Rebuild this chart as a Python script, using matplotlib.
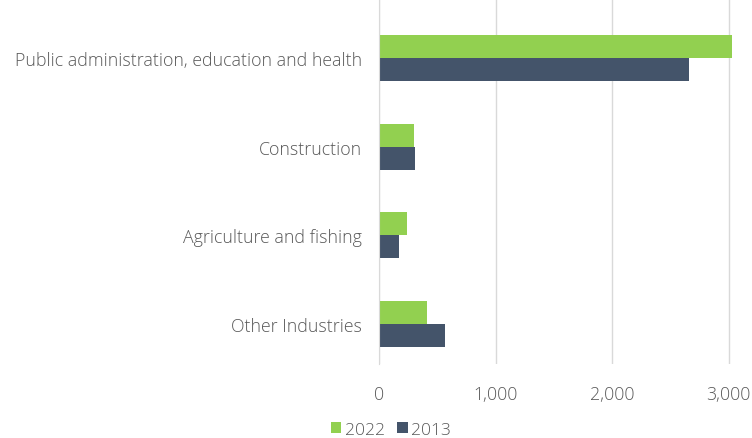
import matplotlib.pyplot as plt
import numpy as np

categories = ["Public administration, education and health", "Construction",
              "Agriculture and fishing", "Other Industries"]
values_2022 = [3030, 300, 243, 410]
values_2013 = [2660, 306, 172, 568]

green = "#92d050"
navy = "#44546a"
text_color = "#595959"

plt.rcParams['font.family'] = ['Open Sans', 'DejaVu Sans']
plt.rcParams['font.weight'] = 'light'

fig = plt.figure(figsize=(7.52, 4.39), dpi=100)
ax = fig.add_axes([0.504, 0.168, 0.496, 0.832])

y = np.arange(len(categories))[::-1]
h = 0.26
ax.barh(y + h / 2, values_2022, height=h, color=green, label="2022")
ax.barh(y - h / 2, values_2013, height=h, color=navy, label="2013")

ax.set_xlim(0, 3200)
ax.set_ylim(-0.46, 3.67)
ax.set_xticks([0, 1000, 2000, 3000])
ax.set_xticklabels(["0", "1,000", "2,000", "3,000"])
ax.set_yticks(y)
ax.set_yticklabels(categories)
ax.tick_params(axis='y', length=0, pad=12, labelsize=12.8, labelcolor=text_color)
ax.tick_params(axis='x', length=0, pad=15, labelsize=12.8, labelcolor=text_color)

ax.grid(axis='x', color="#d9d9d9", linewidth=1)
ax.set_axisbelow(True)
for s in ["top", "right", "bottom"]:
    ax.spines[s].set_visible(False)
ax.spines["left"].set_color("#d9d9d9")

fig.legend(loc="center", bbox_to_anchor=(391 / 752, 1 - 431 / 439), ncol=2,
           frameon=False, fontsize=12.6, handlelength=0.6, handleheight=0.6,
           handletextpad=0.2, columnspacing=0.7, labelcolor=text_color,
           borderaxespad=0, borderpad=0.1)

fig.savefig("out.png", dpi=100)
